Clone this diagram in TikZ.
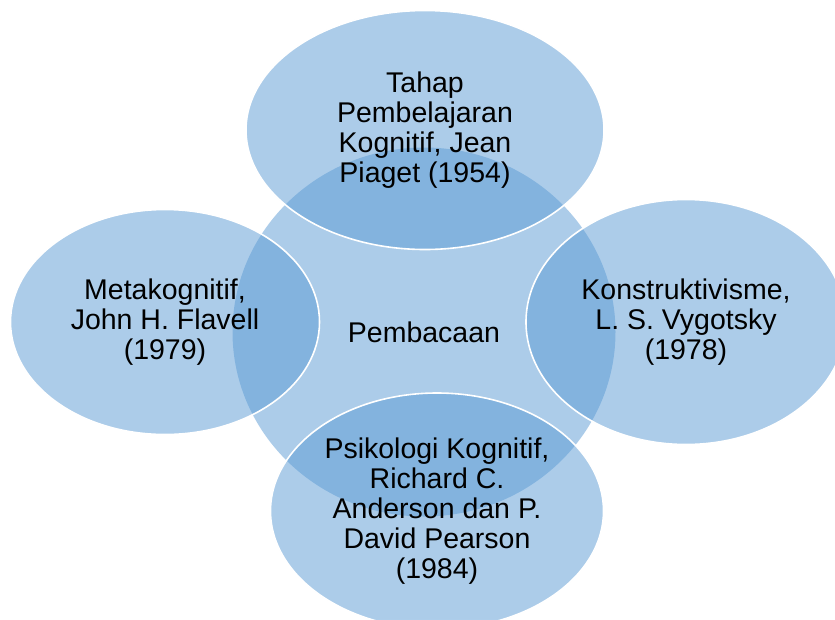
\documentclass[tikz,border=0pt]{standalone}
\usepackage{fontspec}
\setmainfont{Liberation Sans}
\usetikzlibrary{shapes.geometric}
\usetikzlibrary{backgrounds}
\definecolor{office_blue}{HTML}{5B9BD5}

\begin{document}
\begin{tikzpicture}[
	    x=1pt, y=1pt,
	    background rectangle/.style={fill=white}, show background rectangle,
	    inner frame sep=0pt,
	    bubble/.style={ellipse, inner sep=0pt, fill=office_blue, fill opacity=0.5, text opacity=1,
	        draw=white, line width=1.6pt, align=center,
	        font=\fontsize{28.5}{30}\selectfont},
	    hub/.style={bubble, draw=none},
	]
		\useasboundingbox (0, 0) rectangle (835, -619);

		\node[hub, minimum width=383, minimum height=369] (reading) at (424, -332) {Pembacaan};

		\node[bubble, minimum width=358, minimum height=239] (piaget) at (425, -130) {Tahap\\Pembelajaran\\Kognitif, Jean\\Piaget (1954)};
		\node[bubble, minimum width=309, minimum height=225] (flavell) at (165, -322) {Metakognitif,\\John H. Flavell\\(1979)};
		\node[bubble, minimum width=320, minimum height=245] (vygotsky) at (686, -322) {Konstruktivisme,\\L. S. Vygotsky\\(1978)};
		\node[bubble, minimum width=333, minimum height=236] (anderson) at (437, -511) {Psikologi Kognitif,\\Richard C.\\Anderson dan P.\\David Pearson\\(1984)};
	\end{tikzpicture}
\end{document}
